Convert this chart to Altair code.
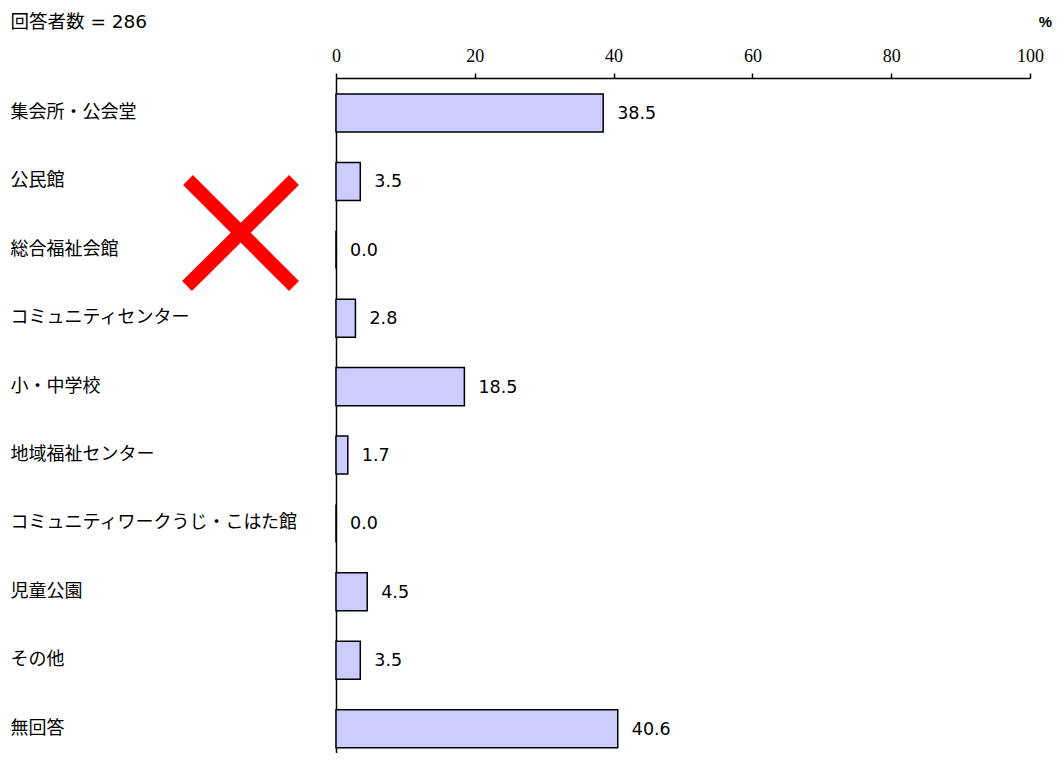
import altair as alt
import pandas as pd

categories = [
    "集会所・公会堂",
    "公民館",
    "総合福祉会館",
    "コミュニティセンター",
    "小・中学校",
    "地域福祉センター",
    "コミュニティワークうじ・こはた館",
    "児童公園",
    "その他",
    "無回答",
]
values = [38.5, 3.5, 0.0, 2.8, 18.5, 1.7, 0.0, 4.5, 3.5, 40.6]
x_ticks = [0, 20, 40, 60, 80, 100]
respondents_title = "回答者数 = 286"
unit_label = "%"

df = pd.DataFrame({"item": categories, "value": values})
df["label"] = df["value"].map(lambda v: f"{v:.1f}")

y_enc = alt.Y(
    "item:N",
    sort=categories,
    scale=alt.Scale(paddingInner=0.444, paddingOuter=0.156, align=0.75),
    axis=alt.Axis(
        ticks=False,
        labelAlign="left",
        labelBaseline="middle",
        labelPadding=326,
        labelLimit=0,
        labelFont="Noto Sans CJK JP",
        labelFontSize=18,
        labelColor="#000000",
        domainColor="#000000",
        domainWidth=1.5,
        grid=False,
        title=respondents_title,
        titleX=-326,
        titleY=-57,
        titleAngle=0,
        titleAlign="left",
        titleBaseline="middle",
        titleFont="DejaVu Sans, Noto Sans CJK JP",
        titleFontSize=18.5,
        titleFontWeight="normal",
        titleColor="#000000",
    ),
)

x_enc = alt.X(
    "value:Q",
    scale=alt.Scale(domain=[0, 100], nice=False),
    axis=alt.Axis(
        orient="top",
        values=x_ticks,
        labelFlush=False,
        labelFont="Liberation Serif",
        labelFontSize=18,
        labelColor="#000000",
        labelPadding=8,
        tickSize=5,
        tickColor="#000000",
        tickWidth=1.5,
        domainColor="#000000",
        domainWidth=1.5,
        grid=False,
        title=unit_label,
        titleX=709,
        titleY=-57,
        titleAlign="center",
        titleBaseline="middle",
        titleFont="Liberation Sans",
        titleFontSize=15,
        titleFontWeight="bold",
        titleColor="#000000",
    ),
)

base = alt.Chart(df)

bars = base.mark_bar(
    color="#CCCCFF", stroke="#000000", strokeWidth=1.5
).encode(x=x_enc, y=y_enc)

labels = base.mark_text(
    align="left", baseline="middle", dx=14, dy=1,
    font="DejaVu Sans", fontSize=17.5, color="#000000"
).encode(x="value:Q", y=alt.Y("item:N", sort=categories), text="label:N")

cross1 = alt.Chart(df.head(1)).mark_rule(
    color="#FF0000", strokeWidth=14, strokeCap="butt"
).encode(x=alt.value(-148), x2=alt.value(-42), y=alt.value(102), y2=alt.value(208))
cross2 = alt.Chart(df.head(1)).mark_rule(
    color="#FF0000", strokeWidth=14, strokeCap="butt"
).encode(x=alt.value(-42), x2=alt.value(-149), y=alt.value(102), y2=alt.value(208))

chart = alt.layer(bars, labels, cross1, cross2).properties(
    width=694,
    height=675,
    background="#FFFFFF",
    padding={"left": 2, "top": 4, "right": 0, "bottom": 0},
).configure_view(stroke=None)

chart.save("out.html", embed_options={"renderer": "svg", "actions": False})
